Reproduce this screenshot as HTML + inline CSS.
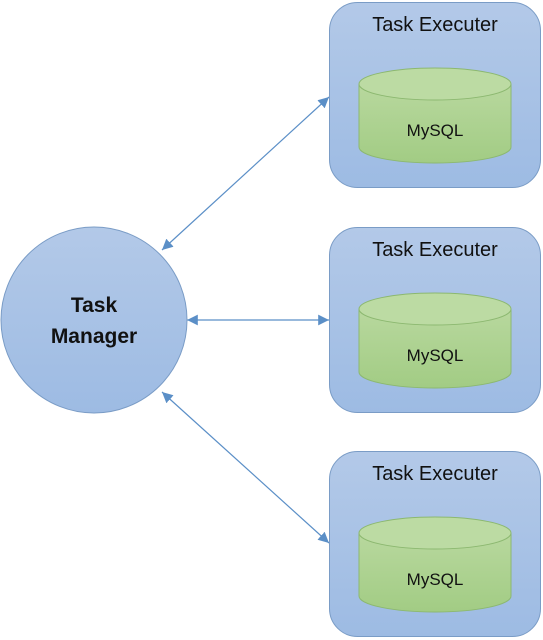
<!DOCTYPE html>
<html><head><style>body{margin:0;background:#fff}svg{display:block}</style></head><body>
<svg width="543" height="640" viewBox="0 0 543 640" xmlns="http://www.w3.org/2000/svg" font-family="'Liberation Sans',sans-serif">
<defs>
<linearGradient id="b" x1="0" y1="0" x2="0" y2="1"><stop offset="0" stop-color="#b3c9e8"/><stop offset="1" stop-color="#9dbbe3"/></linearGradient>
<linearGradient id="g" x1="0" y1="0" x2="0" y2="1"><stop offset="0" stop-color="#b8d89e"/><stop offset="1" stop-color="#a2cc84"/></linearGradient>
<marker id="a" viewBox="0 0 10 10" refX="10" refY="5" markerWidth="9" markerHeight="9" orient="auto-start-reverse"><path d="M0,0L10,5L0,10z" fill="#5b8fc7"/></marker>
</defs>
<g stroke="#5b8fc7" stroke-width="1.2" marker-start="url(#a)" marker-end="url(#a)">
<line x1="162" y1="250" x2="329" y2="97"/>
<line x1="187" y1="320" x2="329" y2="320"/>
<line x1="162" y1="392" x2="329" y2="543"/>
</g>
<circle cx="94" cy="320" r="93" fill="url(#b)" stroke="#7a9cc6"/>
<text x="94" y="312" text-anchor="middle" font-size="21" font-weight="bold" fill="#111">Task</text>
<text x="94" y="343" text-anchor="middle" font-size="21" font-weight="bold" fill="#111">Manager</text>
<g id="e">
<rect x="329.5" y="2.5" width="211" height="185" rx="28" fill="url(#b)" stroke="#7a9cc6"/>
<text x="435" y="31" text-anchor="middle" font-size="20" fill="#111">Task Executer</text>
<path d="M359,84 V147 A76,16 0 0 0 511,147 V84" fill="url(#g)" stroke="#8cb870"/>
<ellipse cx="435" cy="84" rx="76" ry="16" fill="#bcdba3" stroke="#8cb870"/>
<text x="435" y="136" text-anchor="middle" font-size="17" fill="#111">MySQL</text>
</g>
<use href="#e" y="225"/>
<use href="#e" y="449"/>
</svg>
</body></html>
